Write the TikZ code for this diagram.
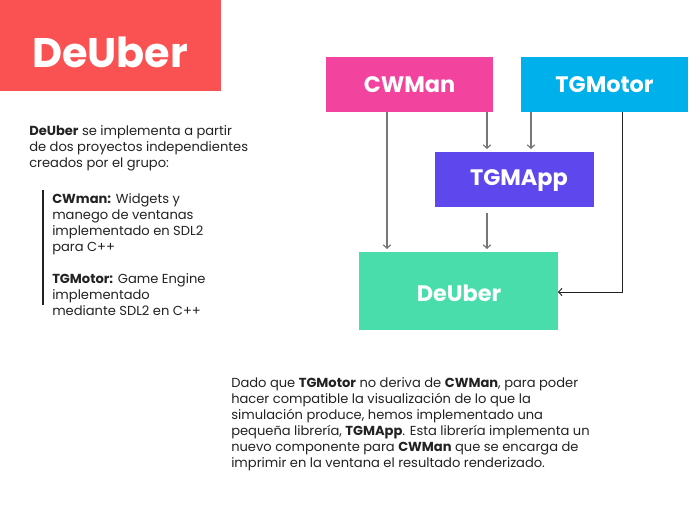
\documentclass[tikz,border=0pt]{standalone}
\usepackage{fontspec}
\setmainfont{Poppins}
\usetikzlibrary{arrows.meta}
\definecolor{titlered}{HTML}{FA5252}
\definecolor{cwpink}{HTML}{F2449F}
\definecolor{tgcyan}{HTML}{00B0EA}
\definecolor{apppurple}{HTML}{5E47EC}
\definecolor{degreen}{HTML}{4ADDAC}
\definecolor{txt}{HTML}{222222}
\definecolor{arr}{HTML}{777777}
\tikzset{
  box/.style={inner sep=0pt, text=white, font=\fontsize{16.8}{20}\selectfont\bfseries},
  para/.style={inner sep=0pt, align=left, anchor=base west, text=txt, font=\fontsize{9.8}{12}\selectfont},
  conn/.style={draw=arr, line width=0.9pt, -{Straight Barb[length=2.5pt,width=5.5pt]}},
}
\begin{document}
\begin{tikzpicture}[x=0.75pt,y=-0.75pt]
\useasboundingbox (0,0) rectangle (700,518);
% title
\fill[titlered] (0,0) rectangle (221,91);
\node[text=white, inner sep=0pt, font=\fontsize{31}{34}\selectfont\bfseries] (title) at (110,52) {DeUber};
% left texts (base = last line)
\node[para] (intro) at (29,167) {\textbf{DeUber} se implementa a partir\\de dos proyectos independientes\\creados por el grupo:};
\draw[txt, line width=0.9pt] (43,190) coordinate (barTop) -- (43,305) coordinate (barBot);
\node[para] (cw) at (52,251) {\textbf{CWman:} Widgets y\\manego de ventanas\\implementado en SDL2\\para C++};
\node[para] (tg) at (52,315) {\textbf{TGMotor:} Game Engine\\implementado\\mediante SDL2 en C++};
% boxes
\fill[cwpink] (326,57) rectangle (493,112);
\node[box] (cwman) at (409.5,85) {CWMan};
\fill[tgcyan] (521,57) rectangle (688,112);
\node[box] (tgmotor) at (604.5,85) {TGMotor};
\fill[apppurple] (435,152) rectangle (594,207);
\node[box] (tgmapp) at (519,181) {TGMApp};
\fill[degreen] (359,252) rectangle (558,330);
\node[box] (deuber) at (459,293) {DeUber};
% connector points
\coordinate (a1) at (387,112); \coordinate (a1e) at (387,249);
\coordinate (a2) at (487,112); \coordinate (a2e) at (487,149);
\coordinate (a3) at (531,112); \coordinate (a3e) at (531,149);
\coordinate (a4) at (487,213); \coordinate (a4e) at (487,249);
\coordinate (a5) at (622,112); \coordinate (a5m) at (622,292); \coordinate (a5e) at (558,292);
\draw[conn] (a1) -- (a1e);
\draw[conn] (a2) -- (a2e);
\draw[conn] (a3) -- (a3e);
\draw[conn] (a4) -- (a4e);
\draw[conn, draw=txt, line width=0.7pt] (a5) -- (a5m) -- (a5e);
% bottom paragraph
\node[para] (bottom) at (231,467) {Dado que \textbf{TGMotor} no deriva de \textbf{CWMan}, para poder\\hacer compatible la visualización de lo que la\\simulación produce, hemos implementado una\\pequeña librería, \textbf{TGMApp}. Esta librería implementa un\\nuevo componente para \textbf{CWMan} que se encarga de\\imprimir en la ventana el resultado renderizado.};
\end{tikzpicture}
\end{document}
